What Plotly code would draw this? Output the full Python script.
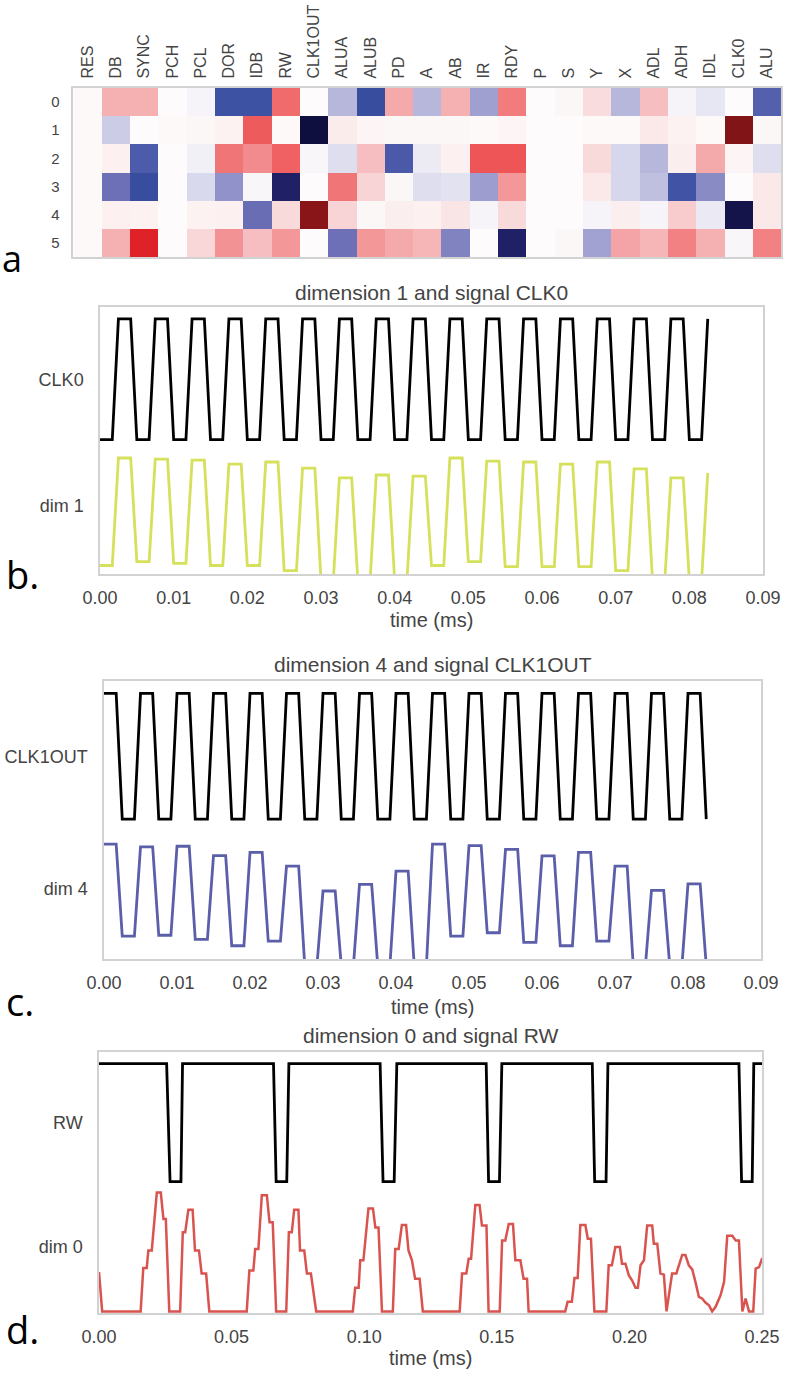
import plotly.graph_objects as go

W, H = 786, 1385

# ---------------- heatmap data ----------------
SIGNALS = ["RES", "DB", "SYNC", "PCH", "PCL", "DOR", "IDB", "RW", "CLK1OUT", "ALUA", "ALUB",
           "PD", "A", "AB", "IR", "RDY", "P", "S", "Y", "X", "ADL", "ADH", "IDL", "CLK0", "ALU"]
DIMENSIONS = ["0", "1", "2", "3", "4", "5"]
DIM0_LOAD = [0.01, 0.30, 0.30, 0.00, -0.03, -0.74, -0.74, 0.55, 0.00, -0.28, -0.76, 0.33, -0.28,
             0.30, -0.37, 0.50, 0.00, 0.02, 0.14, -0.28, 0.25, -0.03, -0.09, 0.00, -0.65]
DIM1_LOAD = [0.01, -0.20, 0.00, 0.01, 0.02, 0.04, 0.60, 0.01, -1.00, 0.07, 0.03, 0.02, 0.02,
             0.02, 0.01, 0.03, 0.00, 0.00, 0.01, 0.01, 0.08, 0.04, 0.01, 1.00, 0.02]
DIM2_LOAD = [0.01, 0.05, -0.68, 0.00, -0.05, 0.52, 0.45, 0.58, -0.02, -0.13, 0.25, -0.69, -0.07,
             0.05, 0.62, 0.62, 0.00, 0.00, 0.15, -0.16, -0.28, 0.06, 0.33, 0.03, -0.13]
DIM3_LOAD = [0.01, -0.55, -0.76, 0.00, -0.15, -0.42, -0.02, -0.90, 0.00, 0.52, 0.17, 0.02, -0.13,
             -0.11, -0.38, 0.40, 0.00, 0.00, 0.08, -0.16, -0.25, -0.73, -0.45, 0.00, 0.08]
DIM4_LOAD = [0.01, 0.05, 0.04, 0.00, 0.04, 0.05, -0.57, 0.15, 0.98, 0.17, 0.02, 0.06, 0.05,
             0.10, -0.03, 0.15, 0.00, 0.00, -0.03, 0.06, -0.03, 0.20, -0.08, -0.97, 0.08]
DIM5_LOAD = [0.01, 0.30, 0.80, 0.00, 0.16, 0.42, 0.25, 0.40, 0.00, -0.55, 0.40, 0.33, 0.28,
             -0.48, 0.00, -0.90, 0.00, 0.02, -0.36, 0.35, 0.28, 0.48, 0.30, -0.02, 0.48]

# ---------------- panel b / c data (sampled traces, 3 samples per half clock cycle) ----------------
SAMPLE_DT_MS = 1.0 / 1200.0
N_SAMPLES = 100
CLK0_LEVELS = [0, 1] * 17
DIM1_LEVELS = [0.026, 0.431, 0.041, 0.427, 0.034, 0.423, 0.026, 0.408, 0.026, 0.416,
               0.007, 0.393, -0.03, 0.356, -0.03, 0.367, -0.03, 0.363, 0.026, 0.431,
               0.041, 0.419, 0.022, 0.416, 0.022, 0.408, 0.022, 0.416, 0.007, 0.390,
               -0.03, 0.356, -0.03, 0.375]
CLK1OUT_LEVELS = [1, 0] * 17
DIM4_LEVELS = [0.410, 0.077, 0.400, 0.080, 0.402, 0.065, 0.368, 0.042, 0.380, 0.059,
               0.330, -0.03, 0.240, -0.03, 0.264, -0.03, 0.312, -0.03, 0.410, 0.077,
               0.404, 0.089, 0.391, 0.054, 0.367, 0.042, 0.380, 0.059, 0.330, -0.03,
               0.242, -0.03, 0.266, -0.03]

# ---------------- panel d data (breakpoints) ----------------
RW_T = [0.0, 0.0255, 0.0268, 0.0309, 0.0315, 0.0658, 0.0668, 0.0708, 0.0716,
        0.1060, 0.1071, 0.1113, 0.1123, 0.1460, 0.1469, 0.1510, 0.1519,
        0.1860, 0.1869, 0.1912, 0.1919, 0.2413, 0.2423, 0.2463, 0.2469, 0.25]
RW_V = [1, 1, 0, 0, 1, 1, 0, 0, 1, 1, 0, 0, 1, 1, 0, 0, 1, 1, 0, 0, 1, 1, 0, 0, 1, 1]

DIM0_T = [0.0, 0.0012,
          0.0157, 0.0167, 0.0180, 0.0186, 0.0199, 0.0218, 0.0233, 0.0243, 0.0252, 0.0265,
          0.0306, 0.0316, 0.0325, 0.0337, 0.0353, 0.0362, 0.0377, 0.0387, 0.0404, 0.0416,
          0.0557, 0.0567, 0.0582, 0.0589, 0.0601, 0.0614, 0.0633, 0.0643, 0.0655, 0.0668,
          0.0706, 0.0716, 0.0727, 0.0736, 0.0752, 0.0758, 0.0774, 0.0784, 0.0799, 0.0819,
          0.0957, 0.0966, 0.0979, 0.0985, 0.0997, 0.1016, 0.1033, 0.1042, 0.1054, 0.1067,
          0.1108, 0.1117, 0.1130, 0.1142, 0.1158, 0.1167, 0.1180, 0.1192, 0.1209, 0.1221,
          0.1360, 0.1369, 0.1385, 0.1394, 0.1403, 0.1419, 0.1435, 0.1444, 0.1461, 0.1469,
          0.1511, 0.1520, 0.1532, 0.1545, 0.1561, 0.1570, 0.1589, 0.1601, 0.1614, 0.1620,
          0.1758, 0.1767, 0.1783, 0.1793, 0.1805, 0.1815, 0.1834, 0.1843, 0.1855, 0.1868,
          0.1913, 0.1922, 0.1934, 0.1947, 0.1964, 0.1972, 0.1985, 0.1998, 0.2010, 0.2023,
          0.2032, 0.2042, 0.2055, 0.2067, 0.2086, 0.2092, 0.2105, 0.2117, 0.2130, 0.2140,
          0.2161, 0.2177, 0.2199, 0.2211, 0.2224, 0.2237, 0.2249, 0.2262, 0.2274, 0.2287,
          0.2300, 0.2312, 0.2325, 0.2344, 0.2357, 0.2369, 0.2388, 0.2401, 0.2413, 0.2426,
          0.2438, 0.2451, 0.2467, 0.2476, 0.2489, 0.2501]
DIM0_V = [0.152, 0.0,
          0.0, 0.167, 0.167, 0.235, 0.235, 0.458, 0.458, 0.356, 0.356, 0.0,
          0.0, 0.305, 0.305, 0.392, 0.392, 0.235, 0.235, 0.146, 0.146, 0.0,
          0.0, 0.158, 0.158, 0.241, 0.241, 0.448, 0.448, 0.344, 0.344, 0.0,
          0.0, 0.305, 0.305, 0.392, 0.392, 0.235, 0.235, 0.146, 0.146, 0.0,
          0.0, 0.091, 0.091, 0.197, 0.197, 0.397, 0.397, 0.324, 0.324, 0.0,
          0.0, 0.241, 0.241, 0.333, 0.333, 0.235, 0.197, 0.126, 0.126, 0.0,
          0.0, 0.146, 0.146, 0.203, 0.203, 0.410, 0.410, 0.331, 0.331, 0.0,
          0.0, 0.273, 0.273, 0.337, 0.337, 0.197, 0.197, 0.126, 0.126, 0.0,
          0.0, 0.037, 0.037, 0.129, 0.129, 0.333, 0.333, 0.280, 0.280, 0.0,
          0.0, 0.178, 0.178, 0.248, 0.248, 0.184, 0.184, 0.139, 0.120, 0.091,
          0.091, 0.178, 0.197, 0.331, 0.331, 0.261, 0.261, 0.146, 0.142, 0.0,
          0.146, 0.146, 0.218, 0.218, 0.178, 0.162, 0.114, 0.056, 0.050, 0.034,
          0.024, 0.0, 0.018, 0.063, 0.114, 0.292, 0.292, 0.273, 0.273, 0.0,
          0.050, 0.0, 0.0, 0.165, 0.171, 0.206]

X_TICKS_SHORT = [0.00, 0.01, 0.02, 0.03, 0.04, 0.05, 0.06, 0.07, 0.08, 0.09]
X_TICKS_LONG = [0.00, 0.05, 0.10, 0.15, 0.20, 0.25]

# ---------------- styling ----------------
SIG_BASE, SIG_AMP = 0.5, 0.455
FONT = "Liberation Sans, Arial, sans-serif"
TXT = "#444444"
FRAME = "#d2d2d2"

COLORSCALE = [
    [0.0, "#0f0f3f"], [0.05, "#1f2066"], [0.125, "#3b50a3"], [0.225, "#6d70b6"],
    [0.325, "#a5a5d3"], [0.425, "#d9d9ed"], [0.5, "#fdfbfb"], [0.575, "#f9dadb"],
    [0.65, "#f5b0b2"], [0.725, "#f28b8d"], [0.8, "#ee5b5c"], [0.9, "#df2227"],
    [1.0, "#801416"],
]


def xd(a, b):
    return [a / W, b / W]


def yd(top, bottom):
    return [1 - bottom / H, 1 - top / H]


def expand(levels):
    out = []
    for lv in levels:
        out.extend([lv, lv, lv])
    return out[:N_SAMPLES]


sample_t = [i * SAMPLE_DT_MS for i in range(N_SAMPLES)]

fig = go.Figure()

fig.add_trace(go.Heatmap(
    z=[DIM0_LOAD, DIM1_LOAD, DIM2_LOAD, DIM3_LOAD, DIM4_LOAD, DIM5_LOAD],
    x=SIGNALS, y=DIMENSIONS, zmin=-1, zmax=1, colorscale=COLORSCALE,
    showscale=False, xaxis="x", yaxis="y", hoverongaps=False,
))

# panel b
fig.add_trace(go.Scatter(x=sample_t, y=[SIG_BASE + SIG_AMP * v for v in expand(CLK0_LEVELS)],
                         mode="lines", line=dict(color="black", width=2.8),
                         xaxis="x2", yaxis="y2", showlegend=False))
fig.add_trace(go.Scatter(x=sample_t, y=expand(DIM1_LEVELS), mode="lines",
                         line=dict(color="#d5e05b", width=2.8),
                         xaxis="x2", yaxis="y2", showlegend=False))
# panel c
fig.add_trace(go.Scatter(x=sample_t, y=[SIG_BASE + SIG_AMP * v for v in expand(CLK1OUT_LEVELS)],
                         mode="lines", line=dict(color="black", width=2.8),
                         xaxis="x3", yaxis="y3", showlegend=False))
fig.add_trace(go.Scatter(x=sample_t, y=expand(DIM4_LEVELS), mode="lines",
                         line=dict(color="#5b5ea8", width=2.8),
                         xaxis="x3", yaxis="y3", showlegend=False))
# panel d
fig.add_trace(go.Scatter(x=RW_T, y=[SIG_BASE + SIG_AMP * v for v in RW_V], mode="lines",
                         line=dict(color="black", width=2.8),
                         xaxis="x4", yaxis="y4", showlegend=False))
fig.add_trace(go.Scatter(x=DIM0_T, y=DIM0_V, mode="lines",
                         line=dict(color="#d9534f", width=2.5),
                         xaxis="x4", yaxis="y4", showlegend=False))

frame = dict(showline=True, mirror=True, linecolor=FRAME, linewidth=1.5,
             showgrid=False, zeroline=False, ticks="", automargin=False)

layout = dict(
    width=W, height=H, margin=dict(l=0, r=0, t=0, b=0),
    paper_bgcolor="white", plot_bgcolor="white",
    font=dict(family=FONT, color=TXT),
    xaxis=dict(domain=xd(73.3, 781), anchor="y", side="top", tickangle=-90,
               tickfont=dict(size=16, color="#444"), ticklabelstandoff=4, **frame),
    yaxis=dict(domain=yd(87.5, 257.3), anchor="x", autorange="reversed",
               tickfont=dict(size=15, color="#444"), ticklabelstandoff=9, **frame),
)

panels = [
    ("2", xd(100, 763), yd(307, 574), X_TICKS_SHORT, [0, 0.09], ["dim 1", "CLK0"]),
    ("3", xd(104, 761), yd(681, 959), X_TICKS_SHORT, [0, 0.09], ["dim 4", "CLK1OUT"]),
    ("4", xd(99, 762), yd(1052, 1313), X_TICKS_LONG, [0, 0.25], ["dim 0", "RW"]),
]
for k, xdom, ydom, xt, xr, ylabels in panels:
    layout["xaxis" + k] = dict(domain=xdom, anchor="y" + k, range=xr, tickvals=xt,
                               ticktext=["%.2f" % v for v in xt],
                               tickfont=dict(size=18, color=TXT), ticklabelstandoff=7, **frame)
    layout["yaxis" + k] = dict(domain=ydom, anchor="x" + k, range=[-0.006, 1.0],
                               tickvals=[0.25, 0.727], ticktext=ylabels,
                               tickfont=dict(size=18, color=TXT), ticklabelstandoff=11, **frame)

fig.update_layout(**layout)


def ann(text, px, py, size, color=TXT, xanchor="center", yanchor="middle", family=FONT):
    fig.add_annotation(text=text, x=px / W, y=1 - py / H, xref="paper", yref="paper",
                       showarrow=False, xanchor=xanchor, yanchor=yanchor,
                       font=dict(size=size, color=color, family=family))


ann("dimension 1 and signal CLK0", 431.5, 292, 21)
ann("dimension 4 and signal CLK1OUT", 432.5, 665, 21)
ann("dimension 0 and signal RW", 430.5, 1035, 21)
ann("time (ms)", 431.5, 620, 20)
ann("time (ms)", 432.5, 1007, 20)
ann("time (ms)", 430.5, 1358, 20)

LETTER_FONT = "Open Sans, Noto Sans, sans-serif"
ann("a", 0, 258, 36, color="black", xanchor="left", family=LETTER_FONT)
ann("b.", 4, 574, 38, color="black", xanchor="left", family=LETTER_FONT)
ann("c.", 4, 1001, 38, color="black", xanchor="left", family=LETTER_FONT)
ann("d.", 4, 1329, 38, color="black", xanchor="left", family=LETTER_FONT)

fig.write_html("out.html", config={"displayModeBar": False},
               post_script="document.body.style.margin='0';"
                           "document.body.style.overflow='hidden';")
